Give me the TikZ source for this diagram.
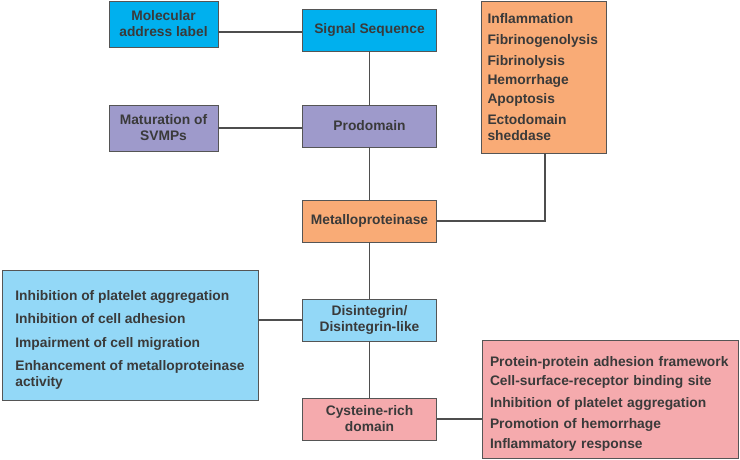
\documentclass[tikz,border=0pt]{standalone}
\usepackage{fontspec}
\setmainfont{Liberation Sans}
\usetikzlibrary{positioning}
\definecolor{cyanbox}{HTML}{00B0EE}
\definecolor{lilac}{HTML}{9E9ACB}
\definecolor{peach}{HTML}{F9AB76}
\definecolor{skyblue}{HTML}{93D8F7}
\definecolor{rosebox}{HTML}{F5AAAD}
\definecolor{txtgray}{HTML}{3A3A3A}
\definecolor{linegray}{HTML}{555555}
\tikzset{%
  % Specifications for style of nodes:
            mainbox/.style = {rectangle, draw=linegray, line width=0.8pt,
                            minimum width=134pt, minimum height=42pt, align=center,
                            text=txtgray, font=\fontsize{13.8}{16}\selectfont\bfseries},
            sidebox/.style = {mainbox, minimum width=109pt, minimum height=46pt},
            listbox/.style = {rectangle, draw=linegray, line width=0.8pt, align=left,
                            text=txtgray, font=\fontsize{13.8}{16}\selectfont\bfseries},
            link/.style = {draw=txtgray!90, line width=1.2pt}
}
\begin{document}
\begin{tikzpicture}[x=1pt, y=-1pt]
                \useasboundingbox (0,0) rectangle (740,460);

                % main column of domains
                \node[mainbox, fill=cyanbox] (sig) at (369.5,30) {Signal Sequence};
                \node[mainbox, fill=lilac] (pro) at (369.5,126) {Prodomain};
                \node[mainbox, fill=peach] (met) at (369.5,221) {Metalloproteinase};
                \node[mainbox, fill=skyblue] (dis) at (369.5,320) {Disintegrin/\\Disintegrin-like};
                \node[mainbox, fill=rosebox] (cys) at (369.5,419) {Cysteine-rich\\domain};

                % side boxes
                \node[sidebox, fill=cyanbox] (mol) at (163.5,24) {Molecular\\address label};
                \node[sidebox, fill=lilac] (mat) at (163.5,128) {Maturation of\\SVMPs};

                \node[listbox, fill=peach, minimum width=125pt, minimum height=152pt,
                      text width=112pt] (metfx) at (543.5,77)
                      {Inflammation\\[5pt]Fibrinogenolysis\\[5pt]Fibrinolysis\\[3pt]Hemorrhage\\[3pt]Apoptosis\\[5pt]Ectodomain\\sheddase};
                \node[listbox, fill=skyblue, minimum width=256pt, minimum height=130pt] (disfx) at (130,335)
                      {\rule{0pt}{20pt}Inhibition of platelet aggregation\\[7pt]Inhibition of cell adhesion\\[8pt]Impairment of cell migration\\[7pt]Enhancement of metalloproteinase\\activity};
                \node[listbox, fill=rosebox, minimum width=256pt, minimum height=118pt,
                      text width=240pt] (cysfx) at (610,399)
                      {\rule{0pt}{20pt}Protein-protein adhesion framework\\[3pt]Cell-surface-receptor binding site\\[6pt]Inhibition of platelet aggregation\\[5pt]Promotion of hemorrhage\\[4pt]Inflammatory response};

                % connectors
                \draw[link] (sig) -- (pro);
                \draw[link] (pro) -- (met);
                \draw[link] (met) -- (dis);
                \draw[link] (dis) -- (cys);
                \draw[link] ([yshift=-2pt]sig.west) -- ([yshift=-2pt]sig.west -| mol.east);
                \draw[link] ([yshift=-2pt]pro.west) -- ([yshift=-2pt]pro.west -| mat.east);
                \draw[link] ([xshift=1.5pt]metfx.south) |- (met.east);
                \draw[link] (dis.west) -- (dis.west -| disfx.east);
                \draw[link] (cys.east) -- (cys.east -| cysfx.west);

            \end{tikzpicture}
\end{document}
